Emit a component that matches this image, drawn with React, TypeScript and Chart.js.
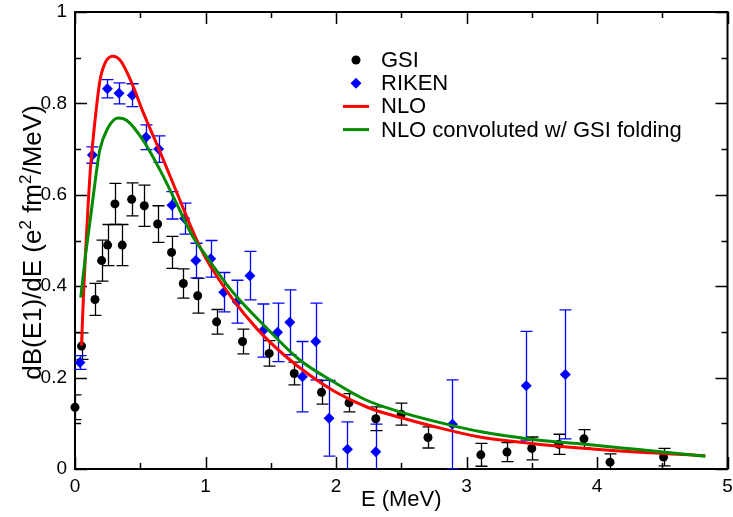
import React, { useEffect, useRef } from 'react';
import { Chart, registerables } from 'chart.js';
Chart.register(...registerables);

// ---- data ----
const gsiE = [0.0, 0.05, 0.153, 0.204, 0.25, 0.306, 0.362, 0.434, 0.531, 0.633, 0.74, 0.83, 0.94, 1.085, 1.284, 1.488, 1.68, 1.889, 2.1, 2.305, 2.5, 2.705, 3.11, 3.31, 3.5, 3.706, 3.9, 4.1, 4.51];
const gsiY = [0.135, 0.269, 0.371, 0.456, 0.49, 0.58, 0.49, 0.59, 0.576, 0.536, 0.474, 0.406, 0.379, 0.322, 0.279, 0.253, 0.209, 0.168, 0.145, 0.11, 0.12, 0.069, 0.031, 0.037, 0.045, 0.054, 0.066, 0.015, 0.026];
const gsiErr = [0.027, 0.029, 0.035, 0.045, 0.045, 0.045, 0.045, 0.036, 0.045, 0.04, 0.035, 0.032, 0.038, 0.027, 0.027, 0.028, 0.025, 0.026, 0.02, 0.026, 0.024, 0.023, 0.025, 0.021, 0.025, 0.022, 0.02, 0.018, 0.019];

const rikenE = [0.038, 0.133, 0.248, 0.337, 0.439, 0.544, 0.641, 0.743, 0.84, 0.926, 1.04, 1.14, 1.243, 1.34, 1.442, 1.552, 1.646, 1.743, 1.845, 1.947, 2.088, 2.305, 2.892, 3.458, 3.757];
const rikenY = [0.233, 0.687, 0.832, 0.822, 0.818, 0.726, 0.7, 0.577, 0.548, 0.456, 0.46, 0.387, 0.366, 0.423, 0.303, 0.299, 0.321, 0.202, 0.279, 0.111, 0.043, 0.038, 0.098, 0.182, 0.207];
const rikenErr = [0.015, 0.018, 0.02, 0.023, 0.025, 0.027, 0.029, 0.03, 0.034, 0.038, 0.04, 0.043, 0.047, 0.053, 0.058, 0.064, 0.071, 0.077, 0.084, 0.083, 0.06, 0.06, 0.097, 0.119, 0.141];

const nloE = [0.05, 0.058, 0.065, 0.08, 0.1, 0.115, 0.133, 0.16, 0.19, 0.23, 0.29, 0.35, 0.43, 0.52, 0.64, 0.78, 0.9, 1.0, 1.2, 1.4, 1.6, 1.8, 2.0, 2.25, 2.5, 2.75, 3.1, 3.5, 3.87, 4.3, 4.83];
const nloY = [0.27, 0.33, 0.38, 0.47, 0.575, 0.645, 0.705, 0.78, 0.848, 0.888, 0.903, 0.893, 0.848, 0.782, 0.702, 0.605, 0.522, 0.462, 0.375, 0.305, 0.25, 0.205, 0.168, 0.134, 0.112, 0.093, 0.07, 0.056, 0.046, 0.037, 0.029];

const convE = [0.044, 0.08, 0.1, 0.12, 0.14, 0.166, 0.19, 0.25, 0.33, 0.4, 0.52, 0.65, 0.78, 0.9, 1.0, 1.2, 1.47, 1.72, 1.98, 2.23, 2.49, 2.72, 3.1, 3.56, 3.87, 4.3, 4.83];
const convY = [0.375, 0.466, 0.51, 0.553, 0.597, 0.654, 0.698, 0.745, 0.768, 0.762, 0.72, 0.655, 0.58, 0.51, 0.468, 0.39, 0.308, 0.239, 0.191, 0.151, 0.125, 0.107, 0.082, 0.063, 0.055, 0.043, 0.028];

const xMajor = [0, 1, 2, 3, 4, 5];
const xMinor = [0.5, 1.5, 2.5, 3.5, 4.5];
const yMajor = [0, 0.2, 0.4, 0.6, 0.8, 1];
const yMinor = [0.1, 0.3, 0.5, 0.7, 0.9];

const legendLabels = ['GSI', 'RIKEN', 'NLO', 'NLO convoluted w/ GSI folding'];
const xTitle = 'E (MeV)';
// y title pieces: [text, isSuperscript]
const yTitleParts: [string, boolean][] = [['dB(E1)/dE (e', false], ['2', true], [' fm', false], ['2', true], ['/MeV)', false]];

const FONT = '"Liberation Sans", Arial, Helvetica, sans-serif';
const RED = '#ff0000';
const GREEN = '#008b00';
const BLUE = '#0000ff';

const toPts = (xs: number[], ys: number[]) => xs.map((x, i) => ({ x, y: ys[i] }));

const decorPlugin = {
  id: 'decor',
  beforeDatasetsDraw(chart: any) {
    const { ctx, chartArea, scales } = chart;
    const xs = scales.x, ys = scales.y;
    ctx.save();
    ctx.strokeStyle = '#000';
    ctx.lineWidth = 2;
    ctx.strokeRect(chartArea.left, chartArea.top, chartArea.right - chartArea.left, chartArea.bottom - chartArea.top);
    ctx.lineWidth = 1.5;
    const tick = (v: number, len: number, axis: 'x' | 'y') => {
      ctx.beginPath();
      if (axis === 'x') {
        const p = Math.round(xs.getPixelForValue(v)) + 0.5;
        ctx.moveTo(p, chartArea.bottom); ctx.lineTo(p, chartArea.bottom - len);
        ctx.moveTo(p, chartArea.top); ctx.lineTo(p, chartArea.top + len);
      } else {
        const p = Math.round(ys.getPixelForValue(v)) + 0.5;
        ctx.moveTo(chartArea.left, p); ctx.lineTo(chartArea.left + len, p);
        ctx.moveTo(chartArea.right, p); ctx.lineTo(chartArea.right - len, p);
      }
      ctx.stroke();
    };
    xMajor.forEach(v => tick(v, 12, 'x'));
    xMinor.forEach(v => tick(v, 6, 'x'));
    yMajor.forEach(v => tick(v, 12, 'y'));
    yMinor.forEach(v => tick(v, 6, 'y'));
    ctx.restore();

    // error bars
    ctx.save();
    ctx.beginPath();
    ctx.rect(chartArea.left - 1, chartArea.top, chartArea.right - chartArea.left + 2, chartArea.bottom - chartArea.top);
    ctx.clip();
    const sets = [
      { e: gsiE, y: gsiY, err: gsiErr, color: '#000000' },
      { e: rikenE, y: rikenY, err: rikenErr, color: BLUE },
    ];
    sets.forEach(s => {
      ctx.strokeStyle = s.color;
      ctx.lineWidth = 1.3;
      s.e.forEach((x, i) => {
        const px = Math.round(xs.getPixelForValue(x)) + 0.5;
        const yt = ys.getPixelForValue(s.y[i] + s.err[i]);
        const yb = ys.getPixelForValue(s.y[i] - s.err[i]);
        ctx.beginPath();
        ctx.moveTo(px, yt); ctx.lineTo(px, yb);
        ctx.moveTo(px - 6, yt); ctx.lineTo(px + 6, yt);
        ctx.moveTo(px - 6, yb); ctx.lineTo(px + 6, yb);
        ctx.stroke();
      });
    });
    ctx.restore();
  },
  afterDraw(chart: any) {
    const { ctx, chartArea } = chart;
    ctx.save();
    // legend
    const sx = chartArea.left + 281;
    const tx = chartArea.left + 306;
    const ty = chartArea.top + 48;
    const dy = 23.2;
    ctx.font = `22px ${FONT}`;
    ctx.textBaseline = 'middle';
    ctx.textAlign = 'left';
    legendLabels.forEach((t, i) => {
      const y = ty + i * dy;
      if (i === 0) {
        ctx.fillStyle = '#000';
        ctx.beginPath(); ctx.arc(sx, y, 4.5, 0, Math.PI * 2); ctx.fill();
      } else if (i === 1) {
        ctx.fillStyle = BLUE;
        ctx.beginPath();
        ctx.moveTo(sx - 5.5, y); ctx.lineTo(sx, y - 5.5); ctx.lineTo(sx + 5.5, y); ctx.lineTo(sx, y + 5.5);
        ctx.closePath(); ctx.fill();
      } else {
        ctx.strokeStyle = i === 2 ? RED : GREEN;
        ctx.lineWidth = 3;
        ctx.beginPath(); ctx.moveTo(sx - 13, y); ctx.lineTo(sx + 13, y); ctx.stroke();
      }
      ctx.fillStyle = '#000';
      ctx.fillText(t, tx, y + 1);
    });
    ctx.restore();

    // y-axis title with superscripts
    ctx.save();
    const mainFont = `26px ${FONT}`;
    const supFont = `17px ${FONT}`;
    let total = 0;
    yTitleParts.forEach(([t, sup]) => { ctx.font = sup ? supFont : mainFont; total += ctx.measureText(t).width; });
    const cy = (chartArea.top + chartArea.bottom) / 2 + 2;
    ctx.translate(32, cy);
    ctx.rotate(-Math.PI / 2);
    ctx.fillStyle = '#000';
    ctx.textBaseline = 'alphabetic';
    ctx.textAlign = 'left';
    let x = -total / 2;
    const base = 9;
    yTitleParts.forEach(([t, sup]) => {
      ctx.font = sup ? supFont : mainFont;
      ctx.fillText(t, x, sup ? base - 10 : base);
      x += ctx.measureText(t).width;
    });
    ctx.restore();
  },
};

export default function App() {
  const ref = useRef<HTMLCanvasElement | null>(null);
  useEffect(() => {
    document.body.style.margin = '0';
    const canvas = ref.current!;
    const chart = new Chart(canvas, {
      type: 'scatter',
      data: {
        datasets: [
          {
            label: legendLabels[3],
            data: toPts(convE, convY),
            showLine: true,
            borderColor: GREEN,
            borderWidth: 3,
            pointRadius: 0,
            cubicInterpolationMode: 'monotone',
            order: 0,
          },
          {
            label: legendLabels[2],
            data: toPts(nloE, nloY),
            showLine: true,
            borderColor: RED,
            borderWidth: 3,
            pointRadius: 0,
            cubicInterpolationMode: 'monotone',
            order: 1,
          },
          {
            label: legendLabels[1],
            data: toPts(rikenE, rikenY),
            pointStyle: 'rectRot',
            pointRadius: 5.5,
            backgroundColor: BLUE,
            borderWidth: 0,
            clip: false,
            order: 2,
          },
          {
            label: legendLabels[0],
            data: toPts(gsiE, gsiY),
            pointStyle: 'circle',
            pointRadius: 4.5,
            backgroundColor: '#000',
            borderWidth: 0,
            clip: false,
            order: 3,
          },
        ] as any,
      },
      options: {
        animation: false,
        responsive: false,
        devicePixelRatio: 1,
        layout: { padding: { top: 12, right: 5, left: 0, bottom: 0 } },
        plugins: { legend: { display: false }, tooltip: { enabled: false } },
        scales: {
          x: {
            type: 'linear',
            min: 0,
            max: 5,
            grid: { display: false, drawTicks: false },
            border: { display: false },
            afterFit: (s: any) => { s.height = 48; s.paddingLeft = 0; s.paddingRight = 0; },
            afterBuildTicks: (s: any) => { s.ticks = xMajor.map(v => ({ value: v })); },
            ticks: { color: '#000', padding: 6, font: { family: FONT, size: 19 }, callback: (v: any) => String(v) },
            title: { display: true, text: xTitle, color: '#000', font: { family: FONT, size: 22 }, padding: { top: 0, bottom: 4 } },
          },
          y: {
            type: 'linear',
            min: 0,
            max: 1,
            grid: { display: false, drawTicks: false },
            border: { display: false },
            afterFit: (s: any) => { s.width = 75; s.paddingTop = 0; s.paddingBottom = 0; },
            afterBuildTicks: (s: any) => { s.ticks = yMajor.map(v => ({ value: v })); },
            ticks: { color: '#000', padding: 8, font: { family: FONT, size: 19 }, callback: (v: any) => String(v) },
          },
        },
      } as any,
      plugins: [decorPlugin],
    });
    return () => chart.destroy();
  }, []);
  return (
    <div style={{ width: 733, height: 517 }}>
      <canvas ref={ref} width={733} height={517} style={{ display: 'block' }} />
    </div>
  );
}
